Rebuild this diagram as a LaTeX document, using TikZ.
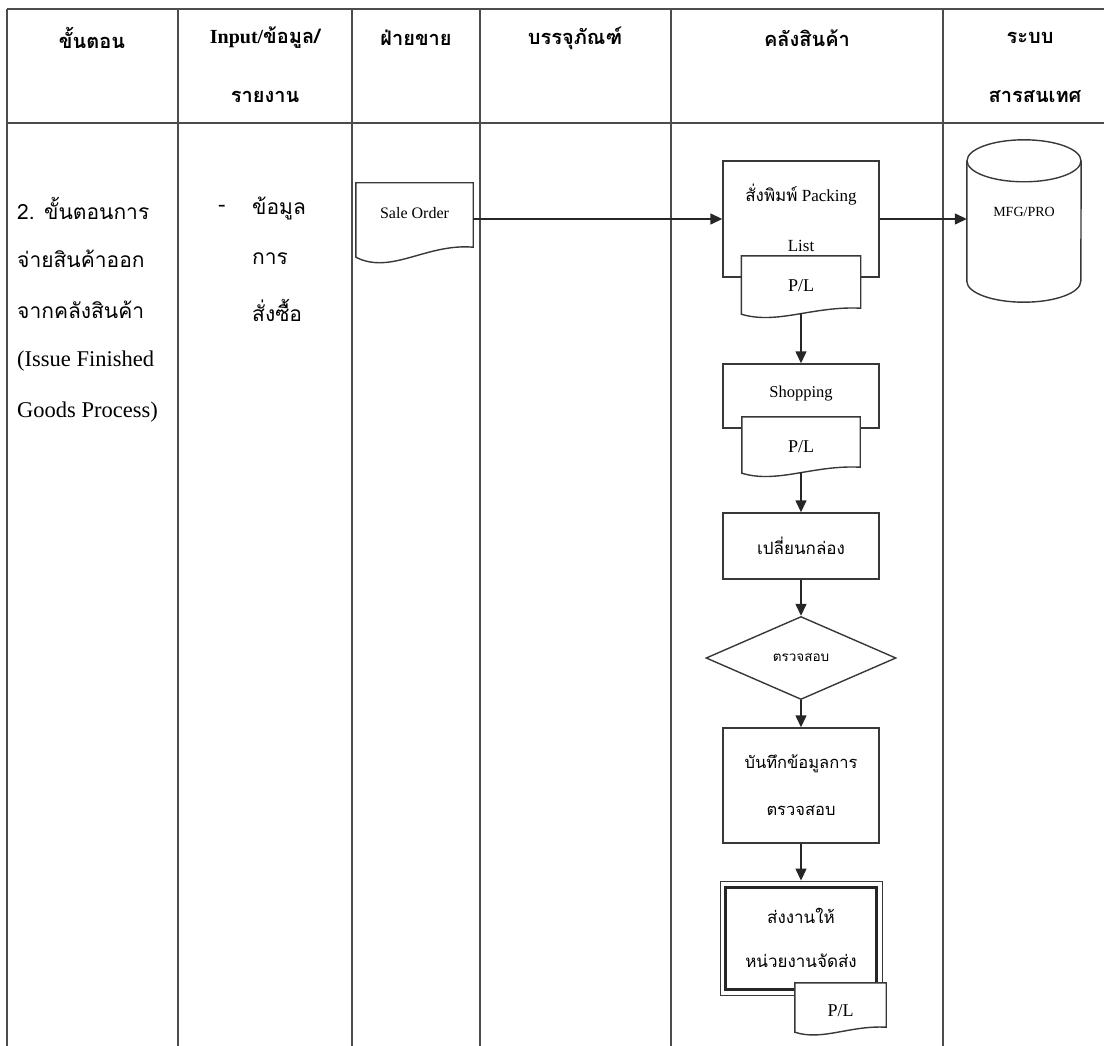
\documentclass[tikz,border=0pt]{standalone}
\usepackage{fontspec}
\setmainfont{Liberation Serif}
\newfontfamily\thaifont[Script=Thai]{Loma}
\usetikzlibrary{arrows.meta,shapes.geometric,calc}

% document symbol: straight top and sides, wavy bottom edge
\newcommand\docshape[2]{%
  \draw[outline, fill=white] (#1.south east) -- (#1.north east) -- (#1.north west)
    -- ($(#1.south west)+(0,#2)$)
    .. controls ($(#1.south west)!0.3!(#1.south east)+(0,2.8*#2)$)
       and ($(#1.south west)!0.6!(#1.south east)+(0,-0.4*#2)$) .. (#1.south east) -- cycle;}

\begin{document}
\begin{tikzpicture}[x=1pt,y=-1pt,
  rule/.style={draw=black!70, line width=2pt},
  outline/.style={draw=black!78, line width=1.4pt},
  flow/.style={draw=black!85, line width=1.4pt, -{Triangle[length=12pt,width=11pt]}},
  procbox/.style={outline, fill=white, inner sep=0pt, minimum width=156pt},
  docarea/.style={inner sep=0pt},
  lbl/.style={inner sep=0pt, font=\fontsize{14}{16}\selectfont},
  pltext/.style={inner sep=0pt, font=\fontsize{18}{20}\selectfont},
  hdr/.style={inner sep=0pt, font=\thaifont\bfseries\fontsize{20}{24}\selectfont},
  body/.style={inner sep=0pt, anchor=west, font=\fontsize{22.5}{26}\selectfont},
  thbody/.style={body, font=\thaifont\fontsize{21}{24}\selectfont},
]
\useasboundingbox (0,0) rectangle (1104,1046);

% table rules
\draw[rule, line width=2.6pt] (7,9) -- (1104,9);
\draw[rule] (7,123) -- (1104,123);
\foreach \cx in {7,178,352,480,671,943}
  \draw[rule] (\cx,9) -- (\cx,1046);

% column headings
\node[hdr] (h-step)   at (92,38)   {ขั้นตอน};
\node[hdr] (h-input)  at (265,38)  {{\rmfamily Input/}ข้อมูล/};
\node[hdr] (h-input2) at (265,97)  {รายงาน};
\node[hdr] (h-sales)  at (416,38)  {ฝ่ายขาย};
\node[hdr] (h-pkg)    at (575,38)  {บรรจุภัณฑ์};
\node[hdr] (h-wh)     at (807,38)  {คลังสินค้า};
\node[hdr] (h-it)     at (1030,38) {ระบบ};
\node[hdr] (h-it2)    at (1035,97) {สารสนเทศ};

% step description
\node[thbody] (step1) at (17,208) {2. ขั้นตอนการ};
\node[thbody] (step2) at (17,259) {จ่ายสินค้าออก};
\node[thbody] (step3) at (17,310) {จากคลังสินค้า};
\node[body]   (step4) at (17,361) {(Issue Finished};
\node[body]   (step5) at (17,412) {Goods Process)};

% input data
\node[body]   (in0) at (218,208) {-};
\node[thbody] (in1) at (252,208) {ข้อมูล};
\node[thbody] (in2) at (252,259) {การ};
\node[thbody] (in3) at (252,310) {สั่งซื้อ};

% sales order document
\node[docarea, minimum width=117pt, minimum height=64pt] (so) at (414.5,215) {};
\docshape{so}{10}
\node[lbl, font=\fontsize{16}{18}\selectfont] (so-t) at ($(so.center)+(0,-2)$) {Sale Order};

% print packing list
\node[procbox, minimum height=116pt] (pack) at (801,219) {};
\node[lbl, align=center, font=\fontsize{17}{50}\selectfont] (pack-t) at (801,218)
  {{\thaifont สั่งพิมพ์} Packing\\List};
\node[docarea, minimum width=119pt, minimum height=52pt] (pl1) at (801,282) {};
\docshape{pl1}{6}
\node[pltext] (pl1-t) at ($(pl1.center)+(0,4)$) {P/L};

% database
\node[docarea, minimum width=114pt, minimum height=120pt] (mfg) at (1024,221) {};
\draw[outline] (mfg.north west) -- (mfg.south west)
  arc[start angle=180, end angle=360, x radius=57pt, y radius=21pt] -- (mfg.north east);
\draw[outline] (mfg.north) ellipse [x radius=57pt, y radius=21pt];
\node[lbl] (mfg-t) at (1024,212) {MFG/PRO};

% shipping
\node[procbox, minimum height=64pt] (shop) at (801,396) {};
\node[lbl, font=\fontsize{16.5}{18}\selectfont] (shop-t) at (801,394) {Shopping};
\node[docarea, minimum width=118pt, minimum height=50pt] (pl2) at (801,442) {};
\docshape{pl2}{6}
\node[pltext] (pl2-t) at ($(pl2.center)+(0,5)$) {P/L};

% repack, check, record
\node[procbox, minimum height=66pt, font=\thaifont\fontsize{17}{19}\selectfont] (swap) at (801,546) {เปลี่ยนกล่อง};
\node[diamond, outline, fill=white, minimum width=190pt, minimum height=83pt, inner sep=0pt,
      font=\thaifont\fontsize{13.5}{15}\selectfont] (check) at (801,658) {ตรวจสอบ};
\node[procbox, minimum height=115pt, align=center, font=\thaifont\fontsize{16.5}{47}\selectfont]
  (rec) at (801,785.5) {บันทึกข้อมูลการ\\ตรวจสอบ};

% hand over to delivery (double border)
\node[draw=black!78, line width=0.9pt, fill=white, minimum width=162pt, minimum height=114pt,
      inner sep=0pt, align=center, font=\thaifont\fontsize{17}{44}\selectfont]
  (ship) at (801,938) {ส่งงานให้\\หน่วยงานจัดส่ง};
\draw[draw=black!85, line width=2.4pt] ($(ship.north west)+(6,7)$) rectangle ($(ship.south east)+(-6,-6)$);
\node[docarea, minimum width=91pt, minimum height=44pt] (pl3) at (840.5,1005) {};
\docshape{pl3}{5}
\node[pltext] (pl3-t) at ($(pl3.center)+(0,6)$) {P/L};

% connectors
\draw[flow] (so.east |- pack.west) -- (pack.west);
\draw[flow] (pack.east) -- (pack.east -| mfg.west);
\draw[flow] ($(pl1.south)+(0,5)$) -- (shop.north);
\draw[flow] ($(pl2.south)+(0,5)$) -- (swap.north);
\draw[flow] (swap.south) -- (check.north);
\draw[flow] (check.south) -- (rec.north);
\draw[flow] (rec.south) -- (ship.north);
\end{tikzpicture}
\end{document}
